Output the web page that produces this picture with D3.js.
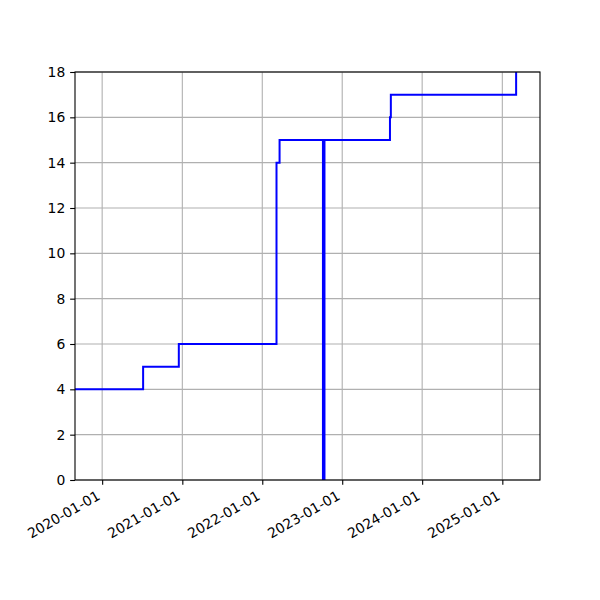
<!DOCTYPE html>
<html>
<head>
<meta charset="utf-8">
<script src="https://cdn.jsdelivr.net/npm/d3@7"></script>
<style>
  body { margin: 0; background: #fff; }
  text { font-family: "DejaVu Sans", sans-serif; }
</style>
</head>
<body>
<div id="chart"></div>
<script>
// step data (value holds until next date)
var dates = ["2019-08-30", "2020-07-06", "2020-12-16", "2022-03-07", "2022-03-21",
             "2022-10-05", "2022-10-12", "2023-08-07", "2023-08-11", "2025-03-05", "2025-06-22"];
var values = [4, 5, 6, 14, 15, 0, 15, 16, 17, 19, 19];
var xTicks = ["2020-01-01", "2021-01-01", "2022-01-01", "2023-01-01", "2024-01-01", "2025-01-01"];
var yTicks = [0, 2, 4, 6, 8, 10, 12, 14, 16, 18];
var xLimits = ["2019-08-30", "2025-06-22"];
var yLimits = [0, 18];

var margin = {top: 72, right: 60, bottom: 120, left: 75},
    width = 600 - margin.left - margin.right,
    height = 600 - margin.top - margin.bottom;

var parse = d3.utcParse("%Y-%m-%d");
var data = dates.map(function(d, i) { return {date: parse(d), value: values[i]}; });

var svg = d3.select("#chart").append("svg")
    .attr("width", 600)
    .attr("height", 600);

var g = svg.append("g")
    .attr("transform", "translate(" + margin.left + "," + margin.top + ")");

var x = d3.scaleUtc()
    .domain(xLimits.map(parse))
    .range([0, width]);

var y = d3.scaleLinear()
    .domain(yLimits)
    .range([height, 0]);

g.append("defs").append("clipPath")
    .attr("id", "clip")
  .append("rect")
    .attr("width", width)
    .attr("height", height);

// grid
g.append("g")
    .selectAll("line.vgrid")
    .data(xTicks.map(parse))
    .enter().append("line")
      .attr("x1", function(d) { return x(d); })
      .attr("x2", function(d) { return x(d); })
      .attr("y1", 0)
      .attr("y2", height)
      .style("stroke", "#b0b0b0")
      .style("stroke-width", 1.1);

g.append("g")
    .selectAll("line.hgrid")
    .data(yTicks)
    .enter().append("line")
      .attr("x1", 0)
      .attr("x2", width)
      .attr("y1", function(d) { return y(d); })
      .attr("y2", function(d) { return y(d); })
      .style("stroke", "#b0b0b0")
      .style("stroke-width", 1.1);

var line = d3.line()
    .x(function(d) { return x(d.date); })
    .y(function(d) { return y(d.value); })
    .curve(d3.curveStepAfter);

g.append("path")
    .datum(data)
    .attr("clip-path", "url(#clip)")
    .attr("d", line)
    .style("fill", "none")
    .style("stroke", "blue")
    .style("stroke-width", 2)
    .style("stroke-linejoin", "miter");

// axes
var xAxis = g.append("g")
    .attr("transform", "translate(0," + height + ")")
    .call(d3.axisBottom(x)
        .tickValues(xTicks.map(parse))
        .tickFormat(d3.utcFormat("%Y-%m-%d"))
        .tickSize(4.86)
        .tickPadding(3));

// matplotlib style: rotated bbox right/top aligned under the tick
xAxis.selectAll(".tick text")
    .style("font-size", "13.9px")
    .style("text-anchor", "end")
    .attr("x", 0)
    .attr("y", 0)
    .attr("dy", 0)
    .attr("transform", "translate(-1.6,18.5) rotate(-30)");

var yAxis = g.append("g")
    .call(d3.axisLeft(y)
        .tickValues(yTicks)
        .tickSize(4.86)
        .tickPadding(4.86));

yAxis.selectAll("text").style("font-size", "13.9px");

[xAxis, yAxis].forEach(function(a) {
  a.select(".domain").remove();
  a.selectAll(".tick line").style("stroke", "#000").style("stroke-width", 1.1);
  a.selectAll("text").style("fill", "#000").style("font-family", "DejaVu Sans");
});

// frame on top
g.append("rect")
    .attr("width", width)
    .attr("height", height)
    .style("fill", "none")
    .style("stroke", "#000")
    .style("stroke-width", 1.1);
</script>
</body>
</html>
